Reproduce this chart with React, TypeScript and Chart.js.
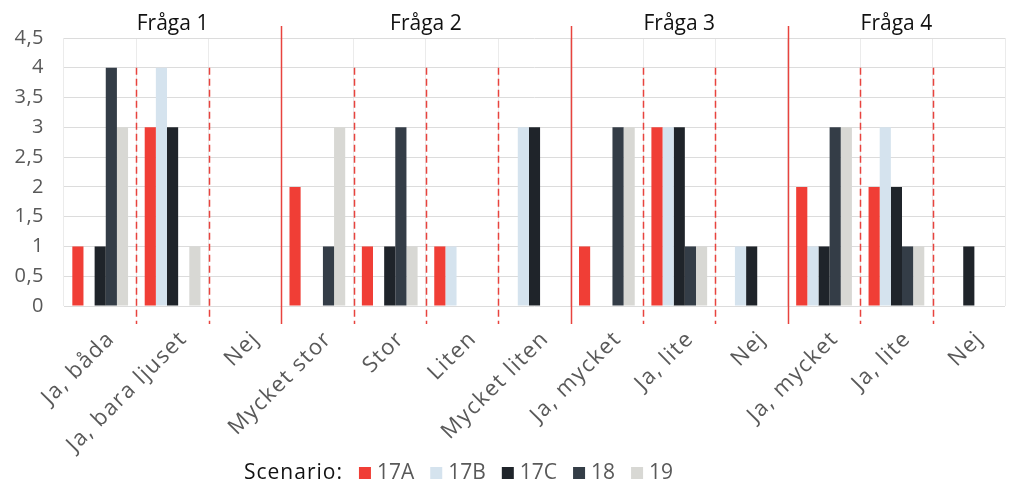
import React, { useEffect, useRef } from "react";
import { Chart, registerables } from "chart.js";

Chart.register(...registerables);

const categories = [
  "Ja, båda", "Ja, bara ljuset", "Nej",
  "Mycket stor", "Stor", "Liten", "Mycket liten",
  "Ja, mycket", "Ja, lite", "Nej",
  "Ja, mycket", "Ja, lite", "Nej",
];
const groupLabels = ["Fråga 1", "Fråga 2", "Fråga 3", "Fråga 4"];
const groupSizes = [3, 4, 3, 3];
const seriesNames = ["17A", "17B", "17C", "18", "19"];
const s17A = [1, 3, 0, 2, 1, 1, 0, 1, 3, 0, 2, 2, 0];
const s17B = [0, 4, 0, 0, 0, 1, 3, 0, 3, 1, 1, 3, 0];
const s17C = [1, 3, 0, 0, 1, 0, 3, 0, 3, 1, 1, 2, 1];
const s18 = [4, 0, 0, 1, 3, 0, 0, 3, 1, 0, 3, 1, 0];
const s19 = [3, 1, 0, 3, 1, 0, 0, 3, 1, 0, 3, 1, 0];
const legendTitle = "Scenario:";
const dashTopValue = 4;

const seriesValues = [s17A, s17B, s17C, s18, s19];
const seriesColors = ["#f03e36", "#d5e3ee", "#1f242a", "#343d47", "#d8d8d4"];

const FONT = "'Open Sans', sans-serif";
const RED = "#e8433e";

const overlayPlugin = {
  id: "overlay",
  beforeDraw(chart: any) {
    chart.ctx.letterSpacing = "1.5px";
  },
  afterDatasetsDraw(chart: any) {
    chart.ctx.letterSpacing = "0.5px";
  },
  afterDraw(chart: any) {
    const { ctx, chartArea } = chart;
    const xs = chart.scales.x;
    const ys = chart.scales.y;
    const boundary = (i: number) => {
      if (i <= 0) return chartArea.left;
      if (i >= categories.length) return chartArea.right;
      return (xs.getPixelForValue(i - 1) + xs.getPixelForValue(i)) / 2;
    };
    ctx.save();
    let idx = 0;
    const groupStarts: number[] = [];
    groupSizes.forEach((n) => {
      groupStarts.push(idx);
      idx += n;
    });
    const bottom = chartArea.bottom + 18;
    for (let i = 1; i < categories.length; i++) {
      const px = Math.round(boundary(i)) + 0.5;
      const isGroup = groupStarts.includes(i);
      ctx.beginPath();
      ctx.strokeStyle = RED;
      ctx.lineWidth = 1.5;
      if (isGroup) {
        ctx.setLineDash([]);
        ctx.moveTo(px, chartArea.top - 12);
      } else {
        ctx.setLineDash([7, 4]);
        ctx.moveTo(px, ys.getPixelForValue(dashTopValue));
      }
      ctx.lineTo(px, bottom);
      ctx.stroke();
    }
    ctx.setLineDash([]);
    // group headers
    ctx.letterSpacing = "0px";
    ctx.font = `21px ${FONT}`;
    ctx.fillStyle = "#111111";
    ctx.textAlign = "center";
    ctx.textBaseline = "alphabetic";
    groupLabels.forEach((label, g) => {
      const a = boundary(groupStarts[g]);
      const b = boundary(groupStarts[g] + groupSizes[g]);
      ctx.fillText(label, (a + b) / 2, 30);
    });
    // legend
    const ly = 473;
    let lx = 244;
    ctx.textAlign = "left";
    ctx.textBaseline = "middle";
    ctx.fillStyle = "#111111";
    ctx.font = `21px ${FONT}`;
    ctx.letterSpacing = "1px";
    ctx.fillText(legendTitle, lx, ly);
    lx += ctx.measureText(legendTitle).width + 16;
    ctx.letterSpacing = "0px";
    chart.data.datasets.forEach((ds: any) => {
      ctx.fillStyle = ds.backgroundColor;
      ctx.fillRect(lx, ly - 6, 12, 12);
      lx += 18;
      ctx.fillStyle = "#595959";
      ctx.fillText(ds.label, lx, ly);
      lx += ctx.measureText(ds.label).width + 16;
    });
    ctx.restore();
    ctx.letterSpacing = "0px";
  },
};

export default function App() {
  const ref = useRef<HTMLCanvasElement | null>(null);
  useEffect(() => {
    if (!ref.current) return;
    const chart = new Chart(ref.current, {
      type: "bar",
      data: {
        labels: categories,
        datasets: seriesNames.map((name, i) => ({
          label: name,
          data: seriesValues[i],
          backgroundColor: seriesColors[i],
          borderWidth: 0,
          barPercentage: 1,
          categoryPercentage: 0.77,
        })),
      },
      options: {
        animation: false,
        responsive: false,
        maintainAspectRatio: false,
        layout: { padding: { top: 38, right: 19, left: 0, bottom: 0 } },
        plugins: { legend: { display: false }, tooltip: { enabled: false } },
        scales: {
          x: {
            grid: { offset: true, color: "#ebebeb", drawTicks: false },
            border: { display: false },
            ticks: {
              autoSkip: false,
              maxRotation: 45,
              minRotation: 45,
              padding: 20,
              labelOffset: 11,
              color: "#595959",
              font: { family: FONT, size: 22 },
            },
            afterFit: (s: any) => {
              s.height = 194;
            },
          },
          y: {
            min: 0,
            max: 4.5,
            grid: { color: "#dcdcdc", drawTicks: false },
            border: { display: false },
            ticks: {
              z: 1,
              stepSize: 0.5,
              padding: 20,
              color: "#595959",
              font: { family: FONT, size: 20 },
              callback: (v: any) => String(v).replace(".", ","),
            },
            afterFit: (s: any) => {
              s.width = 64;
            },
          },
        },
      },
      plugins: [overlayPlugin],
    });
    return () => chart.destroy();
  }, []);
  return (
    <div style={{ position: "fixed", left: 0, top: 0, width: 1024, height: 500, background: "#fff" }}>
      <canvas ref={ref} width={1024} height={500} style={{ width: 1024, height: 500 }} />
    </div>
  );
}
